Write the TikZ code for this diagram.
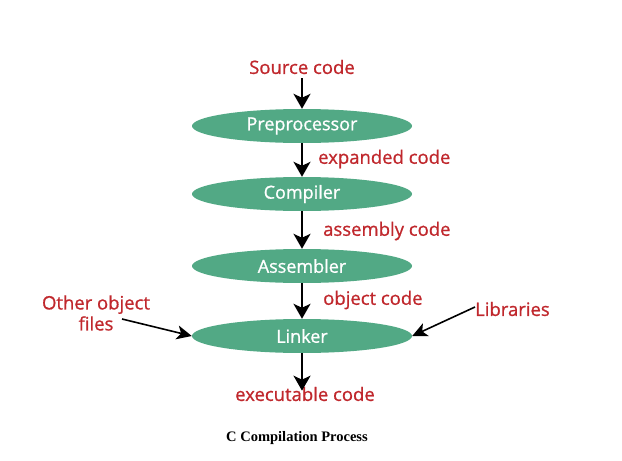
\documentclass[tikz,border=0pt]{standalone}
\usepackage{fontspec}
\setmainfont{Liberation Serif}
\newfontfamily\labelfont[FakeBold=0.9]{Open Sans}
\usetikzlibrary{shapes.geometric,arrows.meta}
\definecolor{procgreen}{HTML}{52A985}
\definecolor{lblred}{HTML}{C0282D}
\tikzset{
  proc/.style = {shape=ellipse, fill=procgreen, draw=none, minimum width=220pt, minimum height=34pt,
    inner sep=0pt, text=white, font=\labelfont\fontsize{18}{20}\selectfont},
  lbl/.style = {text=lblred, align=center, inner sep=0pt, font=\labelfont\fontsize{18.5}{21}\selectfont},
  flow/.style = {-{Stealth[length=15pt,width=17pt,inset=4pt]}, line width=2.2pt, black},
  side/.style = {-{Stealth[length=15pt,width=14pt,inset=4pt]}, line width=1.6pt, black}
}
\begin{document}
\begin{tikzpicture}[x=1pt, y=-1pt]
  \useasboundingbox (0,0) rectangle (622,461);
  % stages
  \node[proc] (pre) at (302,126) {Preprocessor};
  \node[proc] (comp) at (302,194) {Compiler};
  \node[proc] (asm) at (302,266) {Assembler};
  \node[proc] (link) at (302,336) {Linker};
  % labels
  \node[lbl] (src) at (302,67) {Source code};
  \node[lbl, anchor=west] (expd) at (318,159) {expanded code};
  \node[lbl, anchor=west] (asmc) at (323,231) {assembly code};
  \node[lbl, anchor=west] (objc) at (323,300) {object code};
  \node[lbl] (other) at (96,313) {Other object\\files};
  \node[lbl, anchor=west] (libs) at (475,309) {Libraries};
  \node[lbl] (exe) at (305,394) {executable code};
  \coordinate (otherend) at (122,319);
  % arrows
  \draw[flow] (src.south) ++(0,4) -- (pre.north);
  \draw[flow] (pre.south) -- (comp.north);
  \draw[flow] (comp.south) -- (asm.north);
  \draw[flow] (asm.south) -- (link.north);
  \draw[flow] (link.south) -- ([yshift=-4pt]link.south |- exe.north);
  \draw[side] (otherend) -- (link.west);
  \draw[side] ([yshift=2pt]libs.west) -- (link.east);
  % caption
  \node[font=\bfseries\fontsize{14.5}{16}\selectfont] (cap) at (297,438) {C Compilation Process};
\end{tikzpicture}
\end{document}
